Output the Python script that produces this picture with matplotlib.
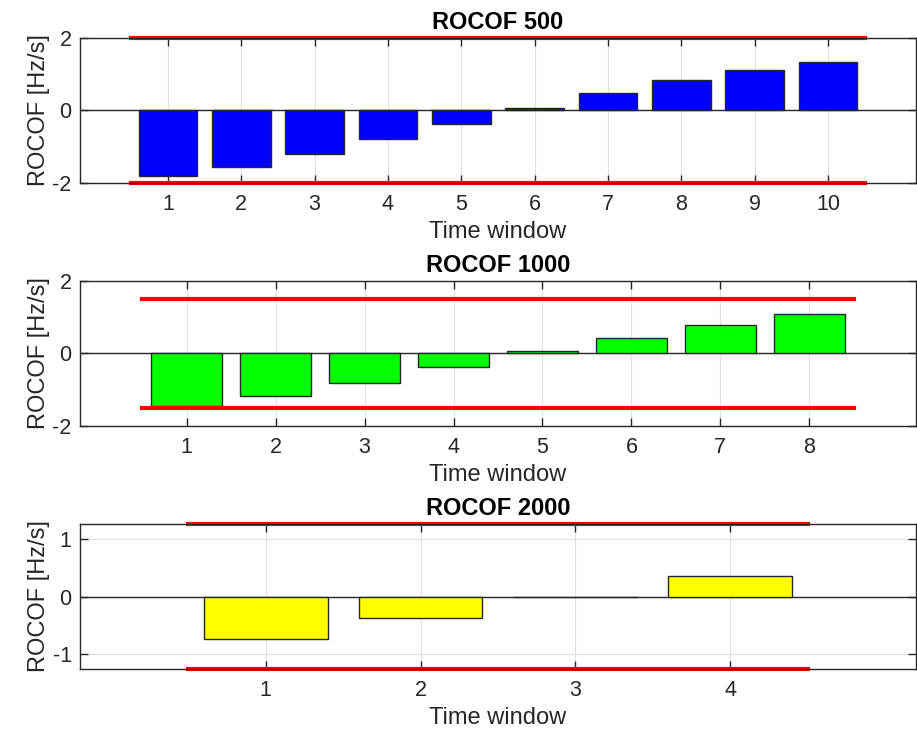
import matplotlib
matplotlib.use("Agg")
import matplotlib.pyplot as plt
import numpy as np

plt.rcParams['font.family'] = ['Liberation Sans', 'DejaVu Sans']
plt.rcParams['axes.unicode_minus'] = False

# ROCOF per time window
rocof_500 = [-1.80, -1.55, -1.20, -0.79, -0.38, 0.06, 0.48, 0.83, 1.12, 1.33]
rocof_1000 = [-1.45, -1.19, -0.81, -0.39, 0.05, 0.43, 0.79, 1.07]
rocof_2000 = [-0.73, -0.37, -0.005, 0.36]

titles = ['ROCOF 500', 'ROCOF 1000', 'ROCOF 2000']
limits = [2.0, 1.5, 1.26]          # red threshold lines
ylims = [(-2, 2), (-2, 2), (-1.26, 1.26)]
yticks = [[-2, 0, 2], [-2, 0, 2], [-1, 0, 1]]
colors = [(0, 0, 1), (0, 1, 0), (1, 1, 0)]

dark = (0.15, 0.15, 0.15)
fig = plt.figure(figsize=(9.17, 7.29), dpi=100)
bottoms = [0.749, 0.416, 0.0823]

for i, vals in enumerate([rocof_500, rocof_1000, rocof_2000]):
    ax = fig.add_axes([0.0872, bottoms[i], 0.9117, 0.1989])
    n = len(vals)
    x = np.arange(1, n + 1)
    ax.grid(True, color=(0.88, 0.88, 0.88), lw=0.8)
    ax.set_axisbelow(True)
    ax.axhline(0, color=dark, lw=1, zorder=2)
    ax.bar(x, vals, width=0.8, color=colors[i], edgecolor=dark, lw=1, zorder=3)
    ax.plot([0.5, n + 0.5], [limits[i], limits[i]], color='r', lw=3, zorder=4, clip_on=False)
    ax.plot([0.5, n + 0.5], [-limits[i], -limits[i]], color='r', lw=3, zorder=4, clip_on=False)
    ax.set_xlim(-0.2, n + 1.2)
    ax.set_ylim(*ylims[i])
    ax.set_xticks(x)
    ax.set_yticks(yticks[i])
    ax.tick_params(direction='in', length=6, width=1, top=True, right=True,
                   labelsize=15.5, colors=dark, pad=6)
    ax.tick_params(axis='x', pad=8)
    for s in ax.spines.values():
        s.set_color(dark)
        s.set_linewidth(1)
        s.set_zorder(5)
    ax.set_title(titles[i], fontsize=17, fontweight='bold', pad=6.5)
    ax.set_xlabel('Time window', fontsize=17, color=dark, labelpad=4.5)
    ax.set_ylabel('ROCOF [Hz/s]', fontsize=17, color=dark, labelpad=2)

fig.savefig('out.png', dpi=100)
